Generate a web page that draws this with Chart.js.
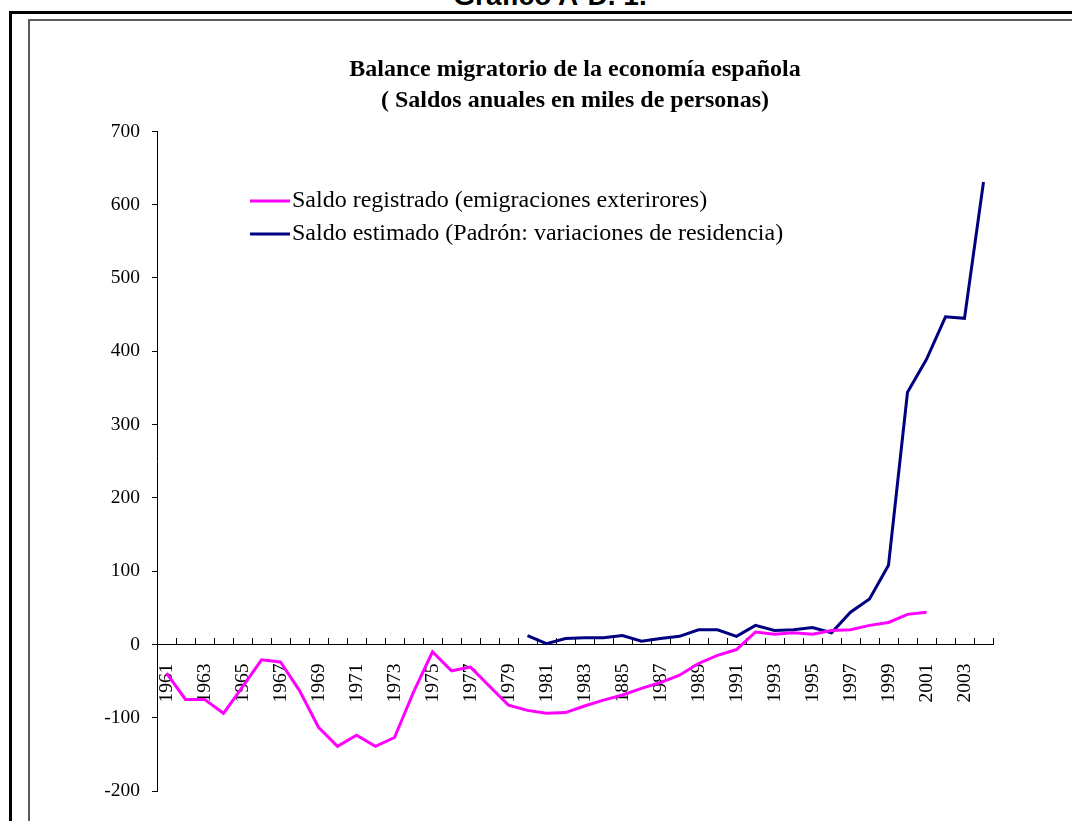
<!DOCTYPE html>
<html>
<head>
<meta charset="utf-8">
<script src="https://cdn.jsdelivr.net/npm/chart.js@4.4.1/dist/chart.umd.min.js"></script>
<style>
  html, body { margin: 0; padding: 0; background: #fff; overflow: hidden; }
  #page { position: relative; width: 1072px; height: 821px; overflow: hidden; }
  #caption { position: absolute; left: 0; top: -18px; width: 1100px; text-align: center;
             font: bold 28px "Liberation Sans", Arial, sans-serif; line-height: 28px; }
  #outer { position: absolute; left: 9px; top: 11px; width: 2000px; height: 2000px;
           border-left: 3px solid #000; border-top: 3px solid #000; }
  #inner { position: absolute; left: 28px; top: 19px; width: 2000px; height: 2000px;
           border-left: 2px solid #5a5a5a; border-top: 2px solid #5a5a5a; }
  #migraChart { position: absolute; left: 0; top: 0; }
</style>
</head>
<body>
<div id="page">
  <div id="caption">Gráfico A-D. 1.</div>
  <div id="outer"></div>
  <div id="inner"></div>
  <canvas id="migraChart" width="1072" height="821"></canvas>
</div>
<script>
var years = ['1961', '1962', '1963', '1964', '1965', '1966', '1967', '1968', '1969', '1970',
             '1971', '1972', '1973', '1974', '1975', '1976', '1977', '1978', '1979', '1980',
             '1981', '1982', '1983', '1984', '1985', '1986', '1987', '1988', '1989', '1990',
             '1991', '1992', '1993', '1994', '1995', '1996', '1997', '1998', '1999', '2000',
             '2001', '2002', '2003', '2004'];

// every second year is labelled (the original has "1885" for 1985)
var tickLabels = ['1961', '1963', '1965', '1967', '1969', '1971', '1973', '1975', '1977', '1979',
                  '1981', '1983', '1885', '1987', '1989', '1991', '1993', '1995', '1997', '1999',
                  '2001', '2003'];

var saldoRegistrado = [-39, -75, -75, -94, -58, -21, -24, -63, -113, -139,
                       -124, -139, -127, -65, -10, -36, -31, -57, -83, -90,
                       -94, -93, -84, -76, -69, -60, -52, -42, -26, -15,
                       -7, 17, 14, 16, 14, 19, 20, 26, 30, 41,
                       44, null, null, null];

var saldoEstimado = [null, null, null, null, null, null, null, null, null, null,
                     null, null, null, null, null, null, null, null, null, 12,
                     1, 8, 9, 9, 12, 4.5, 8, 11, 20, 20,
                     11, 26, 19, 20, 23, 16, 44, 62, 108, 344,
                     389, 447, 445, 631];

var serif = '"Liberation Serif", "Times New Roman", serif';

// legend drawn inside the plot, like the original
var insideLegend = {
    id: 'insideLegend',
    afterDatasetsDraw: function (chart) {
        var ctx = chart.ctx;
        ctx.save();
        ctx.font = '24px ' + serif;
        ctx.textBaseline = 'middle';
        chart.data.datasets.forEach(function (ds, i) {
            var y = 201 + i * 33;
            ctx.strokeStyle = ds.borderColor;
            ctx.lineWidth = 3;
            ctx.beginPath();
            ctx.moveTo(250, y);
            ctx.lineTo(290, y);
            ctx.stroke();
            ctx.fillStyle = '#000';
            ctx.fillText(ds.label, 292, y);
        });
        ctx.restore();
    }
};

var migraChart = new Chart(document.getElementById('migraChart'), {
    type: 'line',
    data: {
        labels: years,
        datasets: [
            {
                label: 'Saldo registrado (emigraciones exterirores)',
                data: saldoRegistrado,
                borderColor: '#FF00FF',
                backgroundColor: '#FF00FF',
                borderWidth: 3,
                pointRadius: 0,
                tension: 0,
                fill: false
            },
            {
                label: 'Saldo estimado (Padrón: variaciones de residencia)',
                data: saldoEstimado,
                borderColor: '#000080',
                backgroundColor: '#000080',
                borderWidth: 3,
                pointRadius: 0,
                tension: 0,
                fill: false
            }
        ]
    },
    options: {
        responsive: false,
        animation: false,
        devicePixelRatio: 1,
        layout: { padding: { left: 40, right: 79, top: 0, bottom: 30 } },
        plugins: {
            legend: { display: false },
            tooltip: { enabled: false },
            title: {
                display: true,
                fullSize: false,
                text: ['Balance migratorio de la economía española', '( Saldos anuales en miles de personas)'],
                color: '#000',
                font: { family: serif, size: 24, weight: 'bold', lineHeight: 1.3 },
                padding: { top: 54, bottom: 15 }
            }
        },
        scales: {
            x: {
                type: 'category',
                offset: true,
                position: { y: 0 },
                afterFit: function (scale) { scale.height = 0; },
                grid: {
                    display: true,
                    drawOnChartArea: false,
                    offset: true,
                    color: '#000',
                    tickLength: -7
                },
                border: { display: true, color: '#000', width: 1 },
                ticks: {
                    autoSkip: false,
                    minRotation: 90,
                    maxRotation: 90,
                    padding: 26,
                    color: '#000',
                    font: { family: serif, size: 19.5 },
                    callback: function (value, index) {
                        return index % 2 === 0 ? tickLabels[index / 2] : '';
                    }
                }
            },
            y: {
                min: -200,
                max: 700,
                afterFit: function (scale) { scale.width = 117; },
                grid: {
                    display: true,
                    drawOnChartArea: false,
                    color: '#000',
                    tickLength: 5
                },
                border: { display: true, color: '#000', width: 1 },
                ticks: {
                    stepSize: 100,
                    padding: 12,
                    color: '#000',
                    font: { family: serif, size: 19.5 }
                }
            }
        }
    },
    plugins: [insideLegend]
});
</script>
</body>
</html>
